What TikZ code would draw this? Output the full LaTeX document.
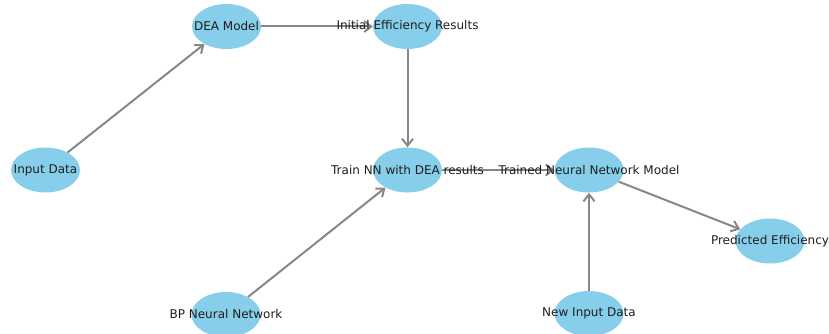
\documentclass[tikz,border=0pt]{standalone}
\usepackage{fontspec}
\setmainfont{DejaVu Sans}
\usetikzlibrary{shapes.geometric,arrows.meta}
\definecolor{nodeblue}{HTML}{87CEEB}
\definecolor{edgegray}{HTML}{878787}
\definecolor{txt}{HTML}{1E1E1E}
\tikzset{
  blob/.style={ellipse,fill=nodeblue,draw=none,minimum width=69pt,minimum height=45pt,inner sep=0pt},
  lbl/.style={inner sep=0pt,text=txt,font=\fontsize{12}{14}\selectfont},
  edge/.style={draw=edgegray,line width=2pt,-{Straight Barb[length=7pt,width=11pt]}}
}
\begin{document}
\begin{tikzpicture}[x=1pt,y=-1pt]
\useasboundingbox (0,0) rectangle (829,334);
\node[blob] (in) at (45.5,170) {};
\node[blob] (dea) at (226.5,26.5) {};
\node[blob] (ier) at (407.5,26.5) {};
\node[blob] (train) at (407.5,170) {};
\node[blob] (bp) at (226,314.5) {};
\node[blob] (tnn) at (589,170) {};
\node[blob] (new) at (589,313.5) {};
\node[blob] (pred) at (770,241) {};
\draw[edge] (in) -- (dea);
\draw[edge] (dea) -- (ier);
\draw[edge] (ier) -- (train);
\draw[edge] (bp) -- (train);
\draw[edge] (train) -- (tnn);
\draw[edge] (new) -- (tnn);
\draw[edge] (tnn) -- (pred);
\node[lbl] (lin) at (in) {Input Data};
\node[lbl] (ldea) at (dea) {DEA Model};
\node[lbl] (lier) at (ier) {Initial Efficiency Results};
\node[lbl] (ltrain) at (train) {Train NN with DEA results};
\node[lbl] (lbp) at (bp) {BP Neural Network};
\node[lbl] (ltnn) at (tnn) {Trained Neural Network Model};
\node[lbl] (lnew) at (new) {New Input Data};
\node[lbl] (lpred) at (pred) {Predicted Efficiency};
\end{tikzpicture}
\end{document}
